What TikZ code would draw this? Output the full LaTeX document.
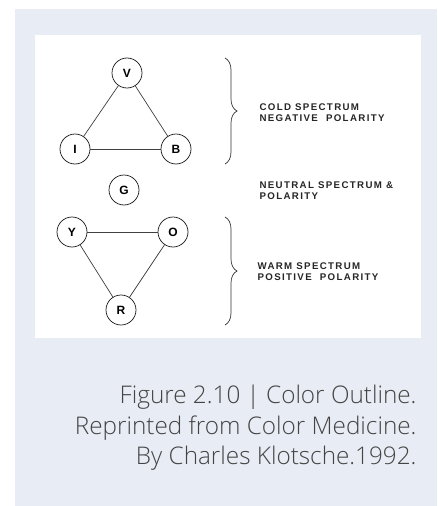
\documentclass[tikz,border=0pt]{standalone}
\usepackage{fontspec}
\IfFontExistsTF{Open Sans Light}{\setmainfont{Open Sans Light}}{\setmainfont{Open Sans}}
\newfontfamily\labfont{Liberation Sans}[LetterSpace=14]
\newfontfamily\nodefont{Liberation Sans}
\usetikzlibrary{decorations.pathreplacing}
\definecolor{panelbg}{HTML}{E8ECF4}
\definecolor{captext}{HTML}{444444}
\begin{document}
\begin{tikzpicture}[x=1pt,y=-1pt,
  colnode/.style={circle,draw=black!85,line width=0.75pt,minimum size=30pt,inner sep=0pt,font=\nodefont\bfseries\fontsize{12}{12}\selectfont},
  edge/.style={draw=black!75,line width=0.7pt},
  sidelab/.style={anchor=west,align=left,text=black!85,font=\labfont\bfseries\fontsize{9.7}{11.3}\selectfont},
  bracestyle/.style={draw=black!80,line width=0.7pt,decorate,decoration={brace,amplitude=12pt}},
  captionstyle/.style={anchor=east,align=right,text=captext,font=\fontsize{24.3}{30.5}\selectfont}]
\useasboundingbox (0,0) rectangle (438,506);
\fill[white] (0,0) rectangle (438,506);
\fill[panelbg] (15,9) rectangle (437,506);
\fill[white] (35,35) rectangle (421,338);
% nodes
\node[colnode] (V) at (127,73) {V};
\node[colnode] (I) at (75,149) {I};
\node[colnode] (B) at (176,149) {B};
\node[colnode] (G) at (124,190) {G};
\node[colnode] (Y) at (72,232) {Y};
\node[colnode] (O) at (173,232) {O};
\node[colnode] (R) at (121,310) {R};
% edges
\draw[edge] (V) -- (I);
\draw[edge] (V) -- (B);
\draw[edge] (I) -- (B);
\draw[edge] (Y) -- (O);
\draw[edge] (Y) -- (R);
\draw[edge] (O) -- (R);
% braces
\coordinate (c1t) at (225,58);
\coordinate (c1b) at (225,164);
\coordinate (c2t) at (225,217);
\coordinate (c2b) at (225,325);
\draw[bracestyle] (c1t) -- (c1b);
\draw[bracestyle] (c2t) -- (c2b);
% side labels
\node[sidelab] (cold) at (256,113) {COLD\ SPECTRUM\\NEGATIVE\ \ POLARITY};
\node[sidelab] (neutral) at (256,191) {NEUTRAL SPECTRUM \&\\POLARITY};
\node[sidelab] (warm) at (254,272) {WARM SPECTRUM\\POSITIVE\ \ POLARITY};
% caption
\node[captionstyle] (cap) at (420,428) {Figure 2.10 | Color Outline.\\Reprinted from Color Medicine.\\By Charles Klotsche.1992.};
\end{tikzpicture}
\end{document}
